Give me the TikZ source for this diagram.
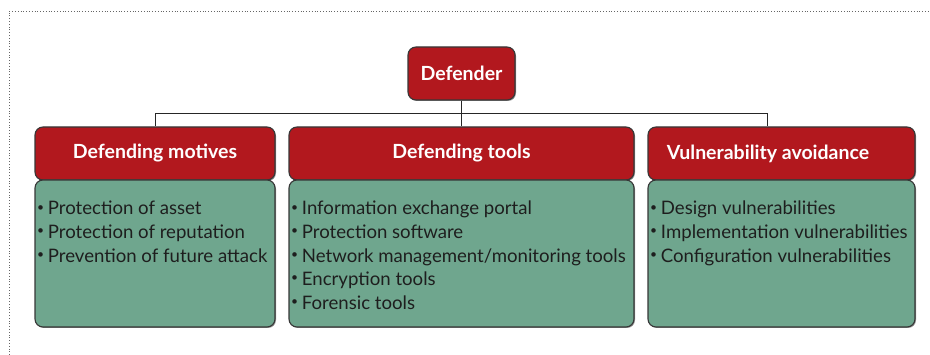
\documentclass[tikz,border=0pt]{standalone}
\usepackage{fontspec}
\setmainfont{Lato}
\usetikzlibrary{calc,shadows}
\definecolor{hdrred}{RGB}{178,24,30}
\definecolor{boxgreen}{RGB}{111,166,142}
\definecolor{edgegray}{RGB}{55,55,55}
\definecolor{txtdark}{RGB}{30,30,30}
\tikzset{
  hdr/.style={draw=edgegray, line width=1.1pt, fill=hdrred, rounded corners=8pt,
    text=white, font=\fontsize{19.5}{22}\selectfont\bfseries, inner sep=0pt,
    drop shadow={shadow xshift=1pt, shadow yshift=-1pt, opacity=0.6, fill=black!70}},
  gbox/.style={draw=edgegray, line width=1.1pt, fill=boxgreen, rounded corners=8pt, inner sep=0pt,
    drop shadow={shadow xshift=1pt, shadow yshift=-1pt, opacity=0.6, fill=black!70}},
  items/.style={anchor=north west, align=left, inner sep=0pt, text=txtdark,
    font=\fontsize{18.6}{23.6}\selectfont},
  link/.style={draw=black!85, line width=0.9pt}
}
\newcommand{\bul}{\raisebox{0.2em}{\scalebox{0.65}{\textbullet}}\hspace{0.2em}}
\begin{document}
\begin{tikzpicture}[x=1pt,y=-1pt]
\useasboundingbox (0,0) rectangle (930,355);
\draw[black!60, dotted, line width=0.8pt] (9,355) -- (9,11) -- (930,11);
% top node
\node[hdr, minimum width=107pt, minimum height=53pt] (def) at (461.5,73.5) {Defender};
% headers
\node[hdr, minimum width=240pt, minimum height=53pt] (h1) at (155,153.5) {Defending motives};
\node[hdr, minimum width=345pt, minimum height=53pt] (h2) at (461.5,153.5) {Defending tools};
\node[hdr, minimum width=267pt, minimum height=53pt] (h3) at (781.5,153.5) {Vulnerability avoidance\hspace*{27pt}};
% green boxes
\node[gbox, minimum width=240pt, minimum height=147pt] (g1) at (155,253.5) {};
\node[gbox, minimum width=345pt, minimum height=147pt] (g2) at (461.5,253.5) {};
\node[gbox, minimum width=267pt, minimum height=147pt] (g3) at (781.5,253.5) {};
% texts
\node[items] (t1) at (37,201) {\bul Protection of asset\\ \bul Protection of reputation\\ \bul Prevention of future attack};
\node[items] (t2) at (291,201) {\bul Information exchange portal\\ \bul Protection software\\ \bul Network management/monitoring tools\\ \bul Encryption tools\\ \bul Forensic tools};
\node[items] (t3) at (650,201) {\bul Design vulnerabilities\\ \bul Implementation vulnerabilities\\ \bul Configuration vulnerabilities};
% connectors
\coordinate (j) at ($(def.south)+(0,13)$);
\coordinate (r3) at ($(h3.north west)+(120,0)$);
\draw[link] (def.south) -- (h2.north);
\draw[link] (h1.north) |- (j) -| (r3);
\end{tikzpicture}
\end{document}
